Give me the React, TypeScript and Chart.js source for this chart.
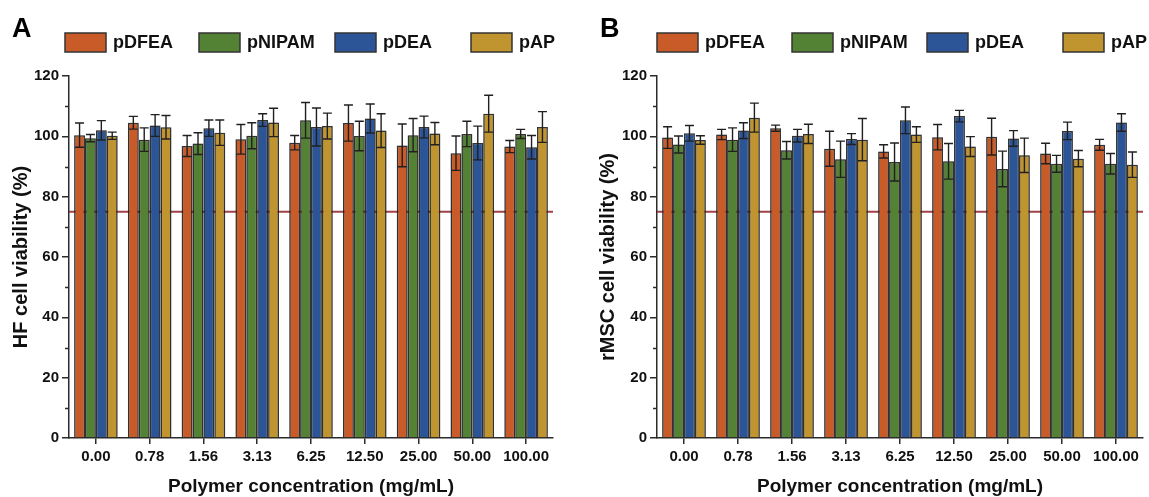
import React, { useEffect, useRef } from 'react';
import { Chart, registerables } from 'chart.js';

Chart.register(...registerables);

const concentrations = ['0.00', '0.78', '1.56', '3.13', '6.25', '12.50', '25.00', '50.00', '100.00'];
const seriesNames = ['pDFEA', 'pNIPAM', 'pDEA', 'pAP'];
const seriesColors = ['#C95B28', '#548235', '#2B5597', '#C0952F'];
const yMin = 0;
const yMax = 120;
const yStep = 10;
const yLabelStep = 20;
const threshold = 75;

// Panel A: HF cell viability (%)
const hfDFEA = [100.4, 104.5, 96.8, 99.0, 97.9, 104.4, 97.0, 94.4, 96.6];
const hfDFEAErr = [4.0, 2.1, 3.5, 4.9, 2.4, 6.0, 7.1, 5.7, 2.0];
const hfNIPAM = [99.4, 98.9, 97.6, 100.2, 105.3, 100.1, 100.4, 100.8, 100.8];
const hfNIPAMErr = [1.2, 3.9, 3.6, 4.3, 5.9, 4.9, 5.5, 4.2, 1.5];
const hfDEA = [102.0, 103.6, 102.7, 105.4, 103.1, 105.9, 103.1, 97.8, 96.4];
const hfDEAErr = [3.2, 3.6, 2.7, 2.1, 6.3, 4.8, 3.6, 5.6, 3.9];
const hfAP = [100.2, 103.0, 101.2, 104.6, 103.4, 101.9, 100.9, 107.5, 103.1];
const hfAPErr = [1.2, 3.9, 4.2, 4.7, 4.3, 5.6, 3.7, 6.1, 5.1];

// Panel B: rMSC cell viability (%)
const msDFEA = [99.6, 100.6, 102.7, 95.9, 95.0, 99.7, 99.9, 94.3, 97.2];
const msDFEAErr = [3.6, 1.7, 1.0, 5.8, 2.2, 4.2, 6.1, 3.4, 1.8];
const msNIPAM = [97.3, 98.9, 95.4, 92.4, 91.5, 91.7, 89.2, 90.9, 90.9];
const msNIPAMErr = [2.8, 3.9, 2.9, 6.0, 6.3, 5.9, 5.9, 2.8, 3.4];
const msDEA = [101.0, 101.9, 100.2, 99.1, 105.3, 106.7, 99.3, 101.8, 104.6];
const msDEAErr = [2.6, 2.6, 2.1, 1.8, 4.4, 1.9, 2.6, 2.9, 2.9];
const msAP = [98.8, 106.2, 100.8, 98.9, 100.6, 96.6, 93.7, 92.6, 90.6];
const msAPErr = [1.4, 4.8, 3.2, 7.0, 2.6, 3.3, 5.7, 2.7, 4.2];

const FONT = '"Liberation Sans", Arial, Helvetica, sans-serif';
const AXIS = '#2b2b2b';
const TEXT = '#111111';
const H = 497;

const decorPlugin = {
  id: 'decor',
  beforeDatasetsDraw(chart: any) {
    const { ctx, chartArea, scales } = chart;
    const yy = scales.y.getPixelForValue(threshold);
    ctx.save();
    ctx.strokeStyle = 'rgba(150,45,50,0.9)';
    ctx.lineWidth = 2;
    ctx.beginPath();
    ctx.moveTo(chartArea.left, yy);
    ctx.lineTo(chartArea.right, yy);
    ctx.stroke();
    ctx.restore();
    // soft halo around bars, like the reference
    ctx.save();
    ctx.shadowColor = 'rgba(0,0,0,0.35)';
    ctx.shadowBlur = 3;
    ctx.shadowOffsetX = 0;
    ctx.shadowOffsetY = 0;
  },
  afterDatasetsDraw(chart: any) {
    const { ctx, scales } = chart;
    ctx.restore();
    ctx.save();
    ctx.strokeStyle = '#202020';
    ctx.lineWidth = 1.4;
    chart.data.datasets.forEach((ds: any, i: number) => {
      const meta = chart.getDatasetMeta(i);
      meta.data.forEach((el: any, j: number) => {
        const v = ds.data[j];
        const e = ds.errors[j];
        const top = scales.y.getPixelForValue(v + e);
        const bot = scales.y.getPixelForValue(v - e);
        const x = el.x;
        const cap = 4.5;
        ctx.beginPath();
        ctx.moveTo(x, top);
        ctx.lineTo(x, bot);
        ctx.moveTo(x - cap, top);
        ctx.lineTo(x + cap, top);
        ctx.moveTo(x - cap, bot);
        ctx.lineTo(x + cap, bot);
        ctx.stroke();
      });
    });
    ctx.restore();
  },
  afterDraw(chart: any, _args: any, opts: any) {
    const { ctx, chartArea, scales } = chart;
    ctx.save();
    // minor ticks
    ctx.strokeStyle = AXIS;
    ctx.lineWidth = 1.5;
    for (let v = yMin + yStep; v < yMax; v += yLabelStep) {
      const yy = Math.round(scales.y.getPixelForValue(v)) + 0.5;
      ctx.beginPath();
      ctx.moveTo(chartArea.left - 4, yy);
      ctx.lineTo(chartArea.left, yy);
      ctx.stroke();
    }
    // legend
    const boxW = 41;
    const boxH = 19;
    const ly = 33;
    seriesNames.forEach((name, i) => {
      const x = chartArea.left + opts.legendX[i];
      ctx.fillStyle = seriesColors[i];
      ctx.fillRect(x, ly, boxW, boxH);
      ctx.strokeStyle = '#333333';
      ctx.lineWidth = 1.5;
      ctx.strokeRect(x, ly, boxW, boxH);
      ctx.fillStyle = TEXT;
      ctx.font = `bold 18px ${FONT}`;
      ctx.textBaseline = 'middle';
      ctx.textAlign = 'left';
      ctx.fillText(name, x + boxW + 7, ly + boxH / 2 + 1);
    });
    // panel letter
    ctx.fillStyle = '#000';
    ctx.font = `bold 27px ${FONT}`;
    ctx.textBaseline = 'alphabetic';
    ctx.fillText(opts.letter, opts.letterX, 37);
    ctx.restore();
  },
};

type PanelProps = {
  letter: string;
  letterX: number;
  yTitle: string;
  series: number[][];
  errors: number[][];
  left: number;
  width: number;
  axisWidth: number;
  padRight: number;
  titlePad: number;
  legendX: number[];
};

function Panel(p: PanelProps) {
  const ref = useRef<HTMLCanvasElement>(null);
  useEffect(() => {
    const chart = new Chart(ref.current as HTMLCanvasElement, {
      type: 'bar',
      data: {
        labels: concentrations,
        datasets: seriesNames.map((name, i) => ({
          label: name,
          data: p.series[i],
          errors: p.errors[i],
          backgroundColor: seriesColors[i],
          borderColor: 'rgba(35,35,35,0.9)',
          borderWidth: 1.5,
          categoryPercentage: 0.81,
          barPercentage: 1.0,
        })) as any,
      },
      options: {
        responsive: false,
        animation: false,
        layout: { padding: { top: 76, right: p.padRight, left: 0, bottom: 0 } },
        plugins: {
          legend: { display: false },
          tooltip: { enabled: false },
          decor: { letter: p.letter, letterX: p.letterX, legendX: p.legendX },
        } as any,
        scales: {
          x: {
            afterFit: (s: any) => { s.height = 59; },
            grid: {
              display: true,
              drawOnChartArea: false,
              drawTicks: true,
              tickLength: 6,
              offset: false,
              color: AXIS,
              lineWidth: 1.5,
            },
            border: { display: true, color: AXIS, width: 1.5 },
            ticks: {
              color: TEXT,
              font: { family: FONT, size: 15, weight: 'bold' },
              padding: 4,
              autoSkip: false,
              maxRotation: 0,
            },
            title: {
              display: true,
              text: 'Polymer concentration (mg/mL)',
              color: TEXT,
              font: { family: FONT, size: 19, weight: 'bold', lineHeight: 1 },
              padding: { top: 0, bottom: 1 },
            },
          },
          y: {
            min: yMin,
            max: yMax,
            afterFit: (s: any) => { s.width = p.axisWidth; },
            grid: {
              display: true,
              drawOnChartArea: false,
              drawTicks: true,
              tickLength: 7,
              color: AXIS,
              tickColor: (c: any) => (c.tick && c.tick.value % yLabelStep === 0 ? AXIS : 'rgba(0,0,0,0)'),
              lineWidth: 1.5,
            },
            border: { display: true, color: AXIS, width: 1.5 },
            ticks: {
              stepSize: yStep,
              autoSkip: false,
              color: TEXT,
              font: { family: FONT, size: 15, weight: 'bold' },
              padding: 3,
              callback: (v: any) => (Number(v) % yLabelStep === 0 ? String(v) : ''),
            },
            title: {
              display: true,
              text: p.yTitle,
              color: TEXT,
              font: { family: FONT, size: 20, weight: 'bold', lineHeight: 1 },
              padding: { top: p.titlePad, bottom: 0 },
            },
          },
        },
      } as any,
      plugins: [decorPlugin],
    });
    return () => chart.destroy();
  }, []);
  return (
    <canvas
      ref={ref}
      width={p.width}
      height={H}
      style={{ position: 'absolute', left: p.left, top: 0, width: p.width, height: H }}
    />
  );
}

export default function App() {
  return (
    <div style={{ position: 'fixed', left: 0, top: 0, width: 1149, height: H, background: '#fff' }}>
      <Panel
        letter="A"
        letterX={12}
        yTitle="HF cell viability (%)"
        series={[hfDFEA, hfNIPAM, hfDEA, hfAP]}
        errors={[hfDFEAErr, hfNIPAMErr, hfDEAErr, hfAPErr]}
        left={0}
        width={575}
        axisWidth={69}
        padRight={22}
        titlePad={11}
        legendX={[-4, 130, 266, 402]}
      />
      <Panel
        letter="B"
        letterX={25}
        yTitle="rMSC cell viability (%)"
        series={[msDFEA, msNIPAM, msDEA, msAP]}
        errors={[msDFEAErr, msNIPAMErr, msDEAErr, msAPErr]}
        left={575}
        width={574}
        axisWidth={82}
        padRight={6}
        titlePad={23}
        legendX={[0, 135, 270, 406]}
      />
    </div>
  );
}
